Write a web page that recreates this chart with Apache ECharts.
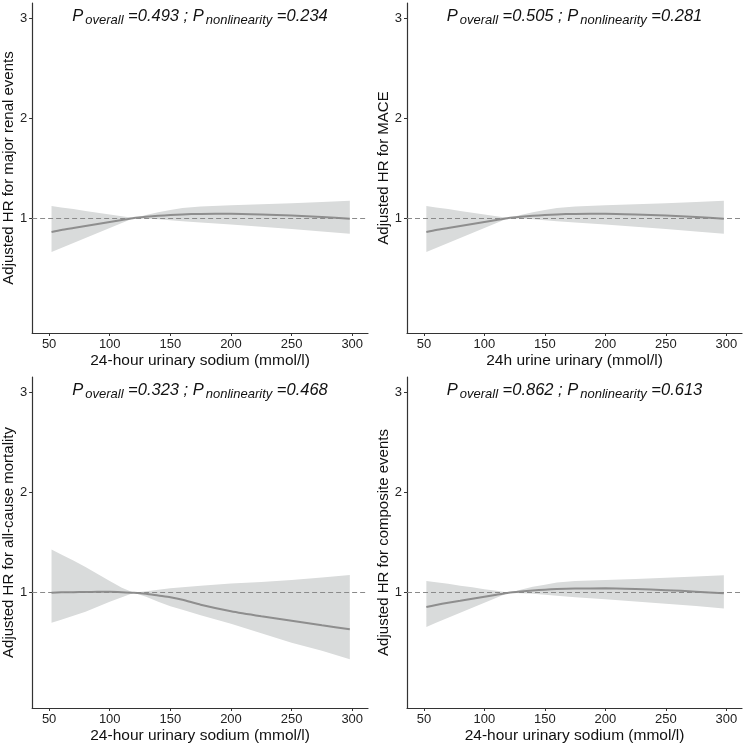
<!DOCTYPE html>
<html><head><meta charset="utf-8">
<script src="https://cdn.jsdelivr.net/npm/echarts@6/dist/echarts.min.js"></script>
<style>html,body{margin:0;padding:0;background:#fff}#c{width:746px;height:746px}</style>
</head><body><div id="c"></div>
<script>
// x values (24-hour urinary sodium, mmol/l)
const xVals = [52, 60, 70, 80, 90, 100, 110, 120, 130, 140, 150, 160, 175, 200, 225, 250, 275, 298];
const xTicks = [50, 100, 150, 200, 250, 300];
const yTicks = [1, 2, 3];

// Panel A: major renal events
const renalEst  = [0.86, 0.88, 0.90, 0.92, 0.94, 0.96, 0.98, 1.00, 1.012, 1.022, 1.030, 1.036, 1.041, 1.043, 1.036, 1.025, 1.010, 0.993];
const renalLow  = [0.66, 0.70, 0.75, 0.80, 0.85, 0.90, 0.95, 1.00, 0.995, 0.988, 0.978, 0.968, 0.955, 0.935, 0.912, 0.890, 0.866, 0.843];
const renalHigh = [1.12, 1.105, 1.09, 1.07, 1.053, 1.035, 1.018, 1.00, 1.03, 1.058, 1.08, 1.10, 1.115, 1.127, 1.137, 1.148, 1.16, 1.173];

// Panel B: MACE
const maceEst  = [0.86, 0.88, 0.90, 0.92, 0.94, 0.96, 0.98, 1.00, 1.012, 1.022, 1.030, 1.036, 1.041, 1.043, 1.036, 1.025, 1.010, 0.993];
const maceLow  = [0.66, 0.70, 0.75, 0.80, 0.85, 0.90, 0.95, 1.00, 0.995, 0.988, 0.978, 0.968, 0.955, 0.935, 0.912, 0.890, 0.866, 0.843];
const maceHigh = [1.12, 1.105, 1.09, 1.07, 1.053, 1.035, 1.018, 1.00, 1.03, 1.058, 1.08, 1.10, 1.115, 1.127, 1.137, 1.148, 1.16, 1.173];

// Panel C: all-cause mortality
const mortEst  = [1.00, 1.003, 1.005, 1.007, 1.008, 1.008, 1.005, 1.00, 0.99, 0.972, 0.955, 0.93, 0.88, 0.815, 0.765, 0.72, 0.675, 0.635];
const mortLow  = [0.70, 0.73, 0.77, 0.81, 0.86, 0.91, 0.955, 1.00, 0.96, 0.91, 0.865, 0.83, 0.775, 0.69, 0.595, 0.50, 0.42, 0.337];
const mortHigh = [1.43, 1.38, 1.32, 1.255, 1.185, 1.115, 1.05, 1.00, 1.015, 1.03, 1.045, 1.055, 1.07, 1.09, 1.105, 1.125, 1.15, 1.175];

// Panel D: composite events
const compEst  = [0.857, 0.877, 0.90, 0.92, 0.94, 0.96, 0.98, 1.00, 1.012, 1.022, 1.030, 1.036, 1.041, 1.043, 1.036, 1.025, 1.010, 0.993];
const compLow  = [0.657, 0.70, 0.75, 0.80, 0.85, 0.90, 0.95, 1.00, 0.995, 0.988, 0.978, 0.968, 0.955, 0.935, 0.912, 0.890, 0.866, 0.843];
const compHigh = [1.117, 1.103, 1.088, 1.07, 1.053, 1.035, 1.018, 1.00, 1.03, 1.058, 1.08, 1.10, 1.115, 1.127, 1.137, 1.148, 1.16, 1.173];

const yNames = ['Adjusted HR for major renal events', 'Adjusted HR for MACE', 'Adjusted HR for all-cause mortality', 'Adjusted HR for composite events'];
const xNames = ['24-hour urinary sodium (mmol/l)', '24h urine urinary (mmol/l)', '24-hour urinary sodium (mmol/l)', '24-hour urinary sodium (mmol/l)'];
const pOverall = ['0.493', '0.505', '0.323', '0.862'];
const pNonlin = ['0.234', '0.281', '0.468', '0.613'];

const panels = [
  {est: renalEst, low: renalLow, high: renalHigh},
  {est: maceEst, low: maceLow, high: maceHigh},
  {est: mortEst, low: mortLow, high: mortHigh},
  {est: compEst, low: compLow, high: compHigh}
];

const gridPos = [
  {left: 32, top: 3, width: 336, height: 330},
  {left: 407, top: 3, width: 335, height: 330},
  {left: 32, top: 377, width: 336, height: 331},
  {left: 407, top: 377, width: 335, height: 331}
];

const FONT = 'Liberation Sans, Arial, sans-serif';
const grids = [], xAxes = [], yAxes = [], series = [], titles = [];

panels.forEach((p, i) => {
  grids.push(Object.assign({containLabel: false}, gridPos[i]));
  xAxes.push({
    type: 'value', gridIndex: i, min: 36, max: 313,
    name: xNames[i], nameLocation: 'middle', nameGap: 20,
    nameTextStyle: {fontFamily: FONT, fontSize: 15.5, color: '#111'},
    axisLine: {show: true, onZero: false, lineStyle: {color: '#333', width: 1.2}},
    axisTick: {show: true, length: 3, customValues: xTicks, lineStyle: {color: '#333'}},
    axisLabel: {customValues: xTicks, fontFamily: FONT, fontSize: 13, color: '#222', margin: 5},
    splitLine: {show: false}
  });
  yAxes.push({
    type: 'value', gridIndex: i, min: -0.15, max: 3.15,
    name: yNames[i], nameLocation: 'middle', nameGap: 13,
    nameTextStyle: {fontFamily: FONT, fontSize: 15, color: '#111'},
    axisLine: {show: true, onZero: false, lineStyle: {color: '#333', width: 1.2}},
    axisTick: {show: true, length: 3, customValues: yTicks, lineStyle: {color: '#333'}},
    axisLabel: {customValues: yTicks, fontFamily: FONT, fontSize: 13, color: '#222', margin: 5},
    splitLine: {show: false}
  });
  const bandData = xVals.map((x, k) => [x, p.low[k], p.high[k]]);
  const estData = xVals.map((x, k) => [x, p.est[k]]);
  series.push({
    type: 'custom', xAxisIndex: i, yAxisIndex: i, data: bandData, silent: true, z: 1,
    renderItem: function (params, api) {
      if (params.dataIndexInside !== 0) return null;
      const n = bandData.length;
      const upper = [], lower = [];
      for (let k = 0; k < n; k++) {
        upper.push(api.coord([api.value(0, k), api.value(2, k)]));
        lower.push(api.coord([api.value(0, k), api.value(1, k)]));
      }
      const pts = upper.concat(lower.reverse());
      return {type: 'polygon', shape: {points: pts}, style: {fill: '#d9dbdb', stroke: null}};
    },
    encode: {x: 0, y: [1, 2]}
  });
  series.push({
    type: 'line', xAxisIndex: i, yAxisIndex: i, data: estData,
    symbol: 'none', smooth: 0.2, lineStyle: {color: '#8e8e8e', width: 2}, silent: true, z: 3,
    markLine: {
      silent: true, symbol: ['none', 'none'], label: {show: false},
      lineStyle: {type: [5, 3], color: '#8a8a8a', width: 1},
      data: [{yAxis: 1}]
    }
  });
  const g = gridPos[i];
  titles.push({
    left: g.left + g.width / 2, top: g.top + 5, padding: 0, textAlign: 'center',
    text: '{p|P}{s|overall}{p| =' + pOverall[i] + ' ; P}{s|nonlinearity}{p| =' + pNonlin[i] + '}',
    textStyle: {
      fontFamily: FONT, fontStyle: 'italic', fontSize: 16.5, fontWeight: 'normal', color: '#111',
      rich: {
        p: {fontFamily: FONT, fontStyle: 'italic', fontSize: 16.5, verticalAlign: 'bottom', padding: [0, 0, 2, 0], color: '#111'},
        s: {fontFamily: FONT, fontStyle: 'italic', fontSize: 13, verticalAlign: 'bottom', padding: [0, 0, 0, 2], color: '#111'}
      }
    }
  });
});

const chart = echarts.init(document.getElementById('c'), null, {renderer: 'canvas'});
chart.setOption({
  animation: false,
  backgroundColor: '#fff',
  title: titles,
  grid: grids, xAxis: xAxes, yAxis: yAxes, series: series
});
</script></body></html>
